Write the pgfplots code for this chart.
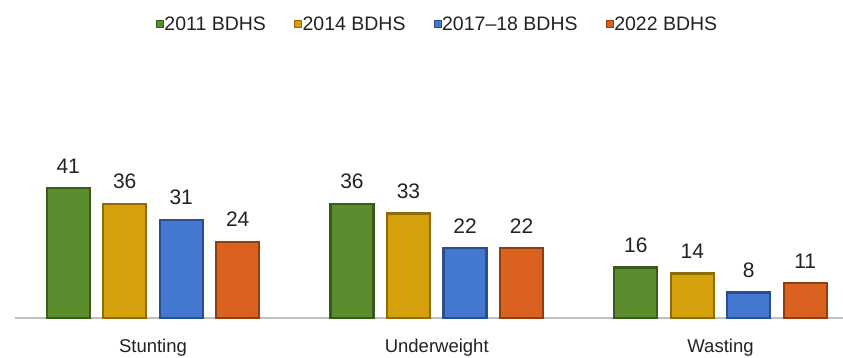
\documentclass[border=0pt]{standalone}
\usepackage{pgfplots}
\pgfplotsset{compat=1.18}
\usepackage{fontspec}
\setmainfont{Liberation Sans}
\definecolor{cgreen}{HTML}{5B8C2E}
\definecolor{cgreenD}{HTML}{3A5A1C}
\definecolor{cyellow}{HTML}{D4A00C}
\definecolor{cyellowD}{HTML}{8E6A08}
\definecolor{cblue}{HTML}{4477D0}
\definecolor{cblueD}{HTML}{2A4F8E}
\definecolor{corange}{HTML}{DA621E}
\definecolor{corangeD}{HTML}{8E3E10}
\definecolor{txt}{HTML}{222222}
\definecolor{axgray}{HTML}{BFBFBF}
\begin{document}
\begin{tikzpicture}
\path[use as bounding box] (0,0) rectangle (843pt,357pt);
\begin{axis}[
  at={(15pt,39pt)}, anchor=south west,
  scale only axis,
  width=828pt, height=142.6pt,
  xmin=-0.4863, xmax=2.4317,
  ymin=0, ymax=45,
  ybar=13.5pt, bar width=43pt,
  axis x line*=bottom, axis y line=none,
  x axis line style={axgray, line width=1.5pt, -},
  xtick={0,1,2}, xticklabels={Stunting,Underweight,Wasting},
  major tick length=0pt,
  xticklabel style={anchor=base, yshift=-34pt, font=\fontsize{18.5}{20}\selectfont, text=txt, inner sep=0pt},
  ytick=\empty,
  nodes near coords,
  every node near coord/.append style={anchor=base, yshift=15pt, font=\fontsize{21}{24}\selectfont, text=txt, inner sep=0pt, /pgf/number format/assume math mode=true},
  clip=false,
  legend columns=4,
  legend style={at={(0.5097,2.062)}, anchor=center, draw=none, fill=none,
    font=\fontsize{19.5}{22}\selectfont, text=txt,
    /tikz/every even column/.append style={column sep=28pt},
    nodes={inner sep=0.5pt}},
  legend image code/.code={\fill[#1, line width=0.6pt] (0pt,-3.5pt) rectangle (7pt,3.5pt);},
]
\addplot[fill=cgreen, draw=cgreenD, line width=2.4pt] coordinates {(0,41) (1,36) (2,16)};
\addplot[fill=cyellow, draw=cyellowD, line width=2.4pt] coordinates {(0,36) (1,33) (2,14)};
\addplot[fill=cblue, draw=cblueD, line width=2.4pt] coordinates {(0,31) (1,22) (2,8)};
\addplot[fill=corange, draw=corangeD, line width=2.4pt] coordinates {(0,24) (1,22) (2,11)};
\legend{2011 BDHS, 2014 BDHS, 2017–18 BDHS, 2022 BDHS}
\end{axis}
\end{tikzpicture}
\end{document}
